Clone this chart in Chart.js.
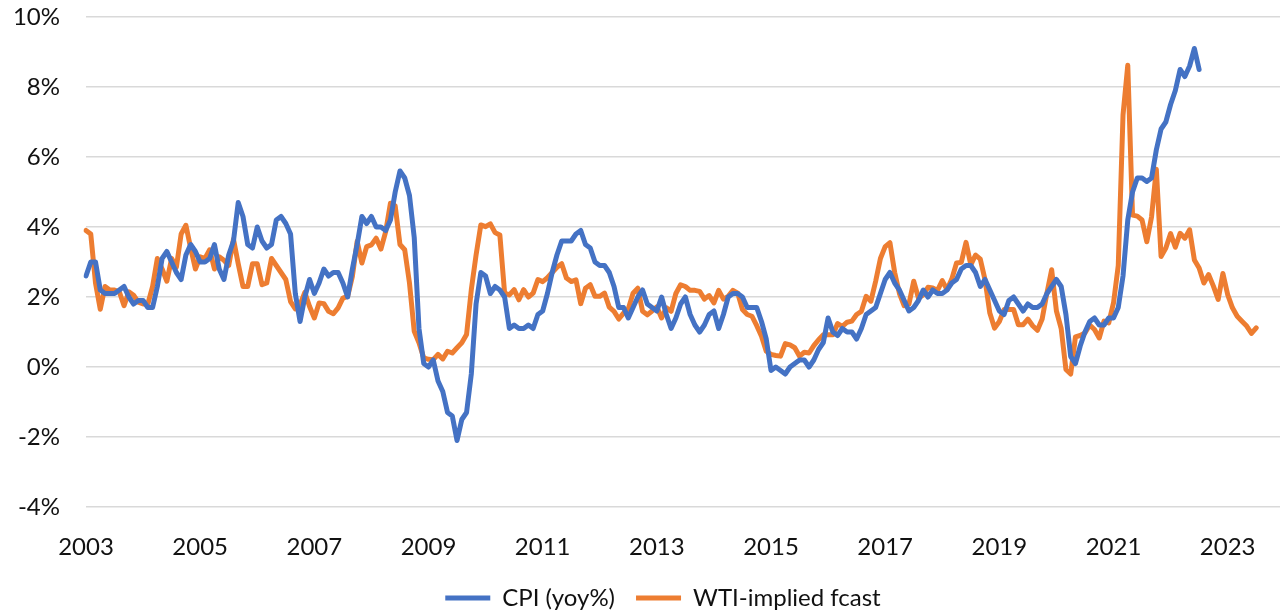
<!DOCTYPE html>
<html>
<head>
<meta charset="utf-8">
<script src="https://cdn.jsdelivr.net/npm/chart.js@4"></script>
<style>
  html, body { margin: 0; padding: 0; background: #fff; }
  #wrap { width: 1280px; height: 614px; }
</style>
</head>
<body>
<div id="wrap"><canvas id="cpiChart" width="1280" height="614"></canvas></div>
<script>
// Monthly categories, Jan 2003 .. Dec 2023
const startYear = 2003;
const endYear = 2023;
const tickYears = ['2003', '2005', '2007', '2009', '2011', '2013', '2015', '2017', '2019', '2021', '2023'];
const yTicks = [-4, -2, 0, 2, 4, 6, 8, 10];

// CPI (yoy%), Jan 2003 .. Jul 2022
const cpi = [
    2.6, 3.0, 3.0, 2.2, 2.1, 2.1, 2.1, 2.2, 2.3, 2.0, 1.8, 1.9,
    1.9, 1.7, 1.7, 2.3, 3.1, 3.3, 3.0, 2.7, 2.5, 3.2, 3.5, 3.3,
    3.0, 3.0, 3.1, 3.5, 2.8, 2.5, 3.2, 3.6, 4.7, 4.3, 3.5, 3.4,
    4.0, 3.6, 3.4, 3.5, 4.2, 4.3, 4.1, 3.8, 2.1, 1.3, 2.0, 2.5,
    2.1, 2.4, 2.8, 2.6, 2.7, 2.7, 2.4, 2.0, 2.8, 3.5, 4.3, 4.1,
    4.3, 4.0, 4.0, 3.9, 4.2, 5.0, 5.6, 5.4, 4.9, 3.7, 1.1, 0.1,
    0.0, 0.2, -0.4, -0.7, -1.3, -1.4, -2.1, -1.5, -1.3, -0.2, 1.8, 2.7,
    2.6, 2.1, 2.3, 2.2, 2.0, 1.1, 1.2, 1.1, 1.1, 1.2, 1.1, 1.5,
    1.6, 2.1, 2.7, 3.2, 3.6, 3.6, 3.6, 3.8, 3.9, 3.5, 3.4, 3.0,
    2.9, 2.9, 2.7, 2.3, 1.7, 1.7, 1.4, 1.7, 2.0, 2.2, 1.8, 1.7,
    1.6, 2.0, 1.5, 1.1, 1.4, 1.8, 2.0, 1.5, 1.2, 1.0, 1.2, 1.5,
    1.6, 1.1, 1.5, 2.0, 2.1, 2.1, 2.0, 1.7, 1.7, 1.7, 1.3, 0.8,
    -0.1, 0.0, -0.1, -0.2, 0.0, 0.1, 0.2, 0.2, 0.0, 0.2, 0.5, 0.7,
    1.4, 1.0, 0.9, 1.1, 1.0, 1.0, 0.8, 1.1, 1.5, 1.6, 1.7, 2.1,
    2.5, 2.7, 2.4, 2.2, 1.9, 1.6, 1.7, 1.9, 2.2, 2.0, 2.2, 2.1,
    2.1, 2.2, 2.4, 2.5, 2.8, 2.9, 2.9, 2.7, 2.3, 2.5, 2.2, 1.9,
    1.6, 1.5, 1.9, 2.0, 1.8, 1.6, 1.8, 1.7, 1.7, 1.8, 2.1, 2.3,
    2.5, 2.3, 1.5, 0.3, 0.1, 0.6, 1.0, 1.3, 1.4, 1.2, 1.2, 1.4,
    1.4, 1.7, 2.6, 4.2, 5.0, 5.4, 5.4, 5.3, 5.4, 6.2, 6.8, 7.0,
    7.5, 7.9, 8.5, 8.3, 8.6, 9.1, 8.5
];

// WTI-implied fcast, Jan 2003 .. Jul 2023
const wti = [
    3.9, 3.8, 2.4, 1.65, 2.3, 2.2, 2.2, 2.15, 1.75, 2.15, 2.05, 1.85,
    1.8, 1.8, 2.3, 3.1, 2.8, 2.45, 3.1, 2.85, 3.8, 4.05, 3.4, 2.8,
    3.15, 3.1, 3.35, 2.8, 3.15, 3.05, 2.9, 3.65, 2.95, 2.3, 2.3, 2.95,
    2.95, 2.35, 2.4, 3.1, 2.9, 2.7, 2.5, 1.87, 1.66, 1.78, 2.13, 1.73,
    1.4, 1.83, 1.81, 1.59, 1.52, 1.69, 1.97, 2.02, 2.59, 3.59, 2.97, 3.44,
    3.49, 3.68, 3.37, 3.87, 4.68, 4.6, 3.5, 3.35, 2.4, 1.02, 0.69, 0.26,
    0.22, 0.21, 0.36, 0.23, 0.45, 0.4, 0.55, 0.69, 0.93, 2.21, 3.2, 4.06,
    4.01, 4.09, 3.84, 3.77, 2.11, 2.06, 2.21, 1.92, 2.21, 2.0, 2.11, 2.5,
    2.44, 2.55, 2.7, 2.85, 2.95, 2.54, 2.44, 2.49, 1.81, 2.25, 2.35, 2.02,
    2.02, 2.11, 1.71, 1.59, 1.37, 1.54, 1.66, 2.11, 2.25, 1.59, 1.49, 1.6,
    1.72, 1.4, 1.69, 1.59, 2.1, 2.35, 2.3, 2.19, 2.19, 2.16, 1.94, 2.04,
    1.83, 2.19, 1.94, 2.02, 2.19, 2.11, 1.64, 1.5, 1.45, 1.18, 0.88, 0.45,
    0.36, 0.33, 0.31, 0.67, 0.63, 0.55, 0.31, 0.42, 0.4, 0.61, 0.78, 0.92,
    0.92, 0.92, 1.24, 1.16, 1.28, 1.31, 1.5, 1.59, 2.02, 1.88, 2.45, 3.1,
    3.44, 3.55, 2.7, 2.1, 1.75, 1.8, 2.45, 1.97, 2.06, 2.28, 2.26, 2.19,
    2.47, 2.21, 2.51, 2.97, 2.99, 3.56, 2.92, 3.2, 3.08, 2.49, 1.54, 1.11,
    1.3, 1.64, 1.64, 1.64, 1.21, 1.21, 1.37, 1.18, 1.05, 1.37, 2.11, 2.78,
    1.6, 1.1, -0.07, -0.2, 0.86, 0.9, 0.97, 1.2, 1.07, 0.83, 1.31, 1.26,
    1.83, 2.9, 7.2, 8.62, 4.34, 4.31, 4.2, 3.58, 4.29, 5.65, 3.16, 3.4,
    3.81, 3.42, 3.82, 3.68, 3.92, 3.06, 2.83, 2.4, 2.64, 2.31, 1.93, 2.67,
    2.07, 1.69, 1.45, 1.31, 1.17, 0.96, 1.12
];

const months = [];
for (let y = startYear; y <= endYear; y++) {
    for (let m = 1; m <= 12; m++) {
        months.push(y + '-' + String(m).padStart(2, '0'));
    }
}

const font = { family: "Lato, 'Open Sans', sans-serif", size: 24, lineHeight: 1 };

// nudge the legend so it sits like the Excel original (centred under the plot, a bit lower)
const legendNudge = {
    id: 'legendNudge',
    afterLayout(chart) {
        const lg = chart.legend;
        if (!lg) return;
        lg.left += 46;
        lg.top += 6;
        lg.bottom += 6;
    }
};

new Chart(document.getElementById('cpiChart'), {
    type: 'line',
    data: {
        labels: months,
        datasets: [
            {
                label: 'CPI (yoy%)',
                data: cpi,
                borderColor: '#4472C4',
                backgroundColor: '#4472C4',
                borderWidth: 5,
                pointRadius: 0,
                borderJoinStyle: 'round',
                borderCapStyle: 'round',
                tension: 0
            },
            {
                label: 'WTI-implied fcast',
                data: wti,
                borderColor: '#ED7D31',
                backgroundColor: '#ED7D31',
                borderWidth: 5,
                pointRadius: 0,
                borderJoinStyle: 'round',
                borderCapStyle: 'round',
                tension: 0
            }
        ]
    },
    plugins: [legendNudge],
    options: {
        responsive: false,
        animation: false,
        layout: { padding: { top: 17, left: 0, right: 0, bottom: 0 } },
        plugins: {
            tooltip: { enabled: false },
            legend: {
                position: 'bottom',
                labels: {
                    color: '#111',
                    font: font,
                    usePointStyle: true,
                    pointStyle: 'line',
                    pointStyleWidth: 45,
                    boxHeight: 24,
                    padding: 21
                }
            }
        },
        scales: {
            x: {
                grid: { display: false },
                border: { display: false },
                afterFit: function (scale) { scale.height = 52; },
                ticks: {
                    autoSkip: false,
                    maxRotation: 0,
                    padding: 20,
                    color: '#111',
                    font: font,
                    callback: function (value) {
                        const lab = this.getLabelForValue(value);
                        const yr = lab.slice(0, 4);
                        return (lab.slice(5) === '01' && tickYears.includes(yr)) ? yr : null;
                    }
                }
            },
            y: {
                min: yTicks[0],
                max: yTicks[yTicks.length - 1],
                afterFit: function (scale) { scale.width = 86; },
                grid: { color: '#d9d9d9', lineWidth: 1.5, drawTicks: true, tickLength: 21, tickColor: 'rgba(0,0,0,0)' },
                border: { display: false },
                ticks: {
                    stepSize: 2,
                    padding: 5,
                    color: '#111',
                    font: font,
                    callback: function (value) { return value + '%'; }
                }
            }
        }
    }
});
</script>
</body>
</html>
